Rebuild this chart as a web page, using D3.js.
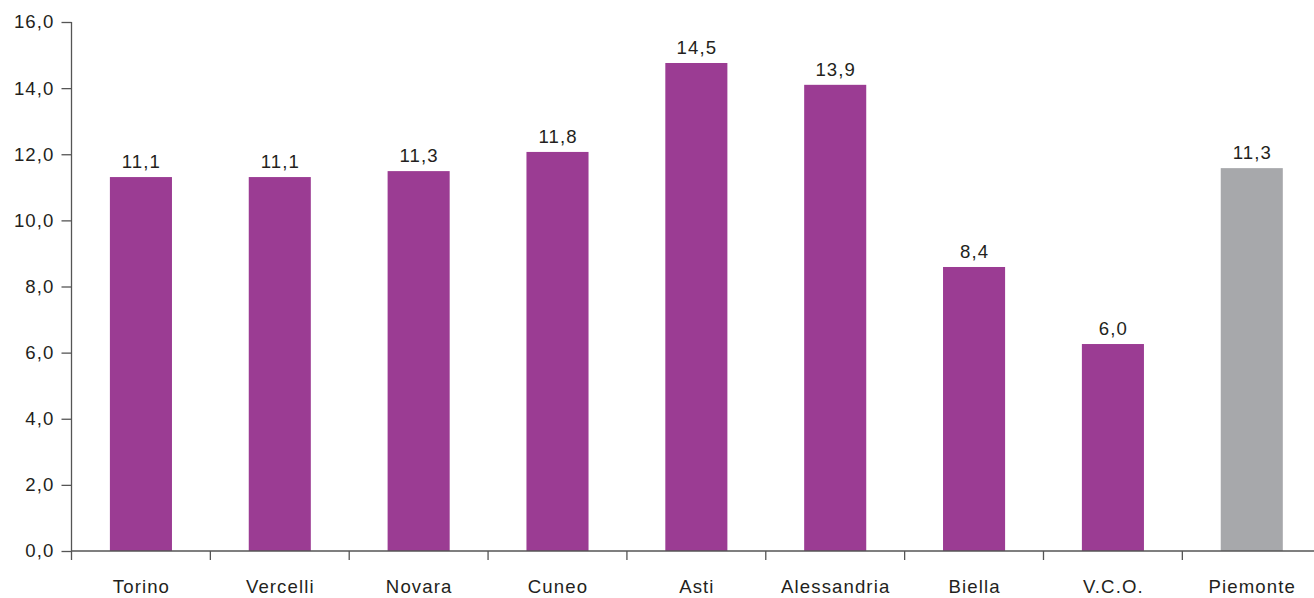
<!DOCTYPE html>
<html><head><meta charset="utf-8">
<script src="https://cdn.jsdelivr.net/npm/d3@7"></script>
<style>body{margin:0;background:#fff}svg{display:block}text{font-family:"Liberation Sans",Arial,sans-serif;fill:#231f20;letter-spacing:1.1px}</style>
</head><body><svg id="c" width="1314" height="598"></svg>
<script>
const categories = ["Torino","Vercelli","Novara","Cuneo","Asti","Alessandria","Biella","V.C.O.","Piemonte"];
const labels = ["11,1","11,1","11,3","11,8","14,5","13,9","8,4","6,0","11,3"];
const values = [11.31,11.31,11.49,12.07,14.76,14.10,8.59,6.26,11.58];
const yTicks = [0,2,4,6,8,10,12,14,16];
const yTickLabels = ["0,0","2,0","4,0","6,0","8,0","10,0","12,0","14,0","16,0"];

(function(){
const svg = d3.select("#c");
const mLeft = 71.5, mRight = 1321.2, mTop = 22, mBottom = 551;
const x = d3.scaleBand().domain(categories).range([mLeft, mRight]).paddingInner(0.553).paddingOuter(0.2765);
const y = d3.scaleLinear().domain([0,16]).range([mBottom, mTop]);
const axisColor = "#555";

svg.selectAll("rect.bar").data(categories).enter().append("rect")
  .attr("x", d => x(d)).attr("width", x.bandwidth())
  .attr("y", (d,i) => y(values[i])).attr("height", (d,i) => mBottom - y(values[i]))
  .attr("fill", (d,i) => d === "Piemonte" ? "#a7a8ab" : "#9b3c93");

svg.selectAll("text.val").data(categories).enter().append("text")
  .attr("x", d => x(d) + x.bandwidth()/2 + 0.5).attr("y", (d,i) => y(values[i]) - 9)
  .attr("text-anchor","middle").style("font-size","18.6px").text((d,i) => labels[i]);

const yAxis = d3.axisLeft(y).tickValues(yTicks).tickSize(10).tickPadding(7)
  .tickFormat((d,i) => yTickLabels[i]);
const gy = svg.append("g").attr("transform",`translate(${mLeft},0)`).call(yAxis);
gy.select(".domain").attr("stroke",axisColor).attr("stroke-width",1.3).attr("d",`M0,${mTop}V${mBottom+9}`);
gy.selectAll(".tick line").attr("stroke",axisColor).attr("stroke-width",1.3);
gy.selectAll(".tick text").style("font-size","18.6px").style("font-family","Liberation Sans, Arial, sans-serif").attr("fill","#231f20");

svg.append("line").attr("x1",mLeft).attr("x2",1314).attr("y1",mBottom).attr("y2",mBottom)
  .attr("stroke",axisColor).attr("stroke-width",1.3);
const step = x.step();
const bounds = categories.map((d,i) => x(d) - x.paddingInner()*step/2).slice(1);
svg.selectAll("line.xt").data(bounds).enter().append("line")
  .attr("x1", d => d).attr("x2", d => d).attr("y1", mBottom).attr("y2", mBottom+9)
  .attr("stroke",axisColor).attr("stroke-width",1.3);

svg.selectAll("text.cat").data(categories).enter().append("text")
  .attr("x", d => x(d) + x.bandwidth()/2 + 0.5).attr("y", 593)
  .attr("text-anchor","middle").style("font-size","18.6px").text(d => d);
})();
</script></body></html>
